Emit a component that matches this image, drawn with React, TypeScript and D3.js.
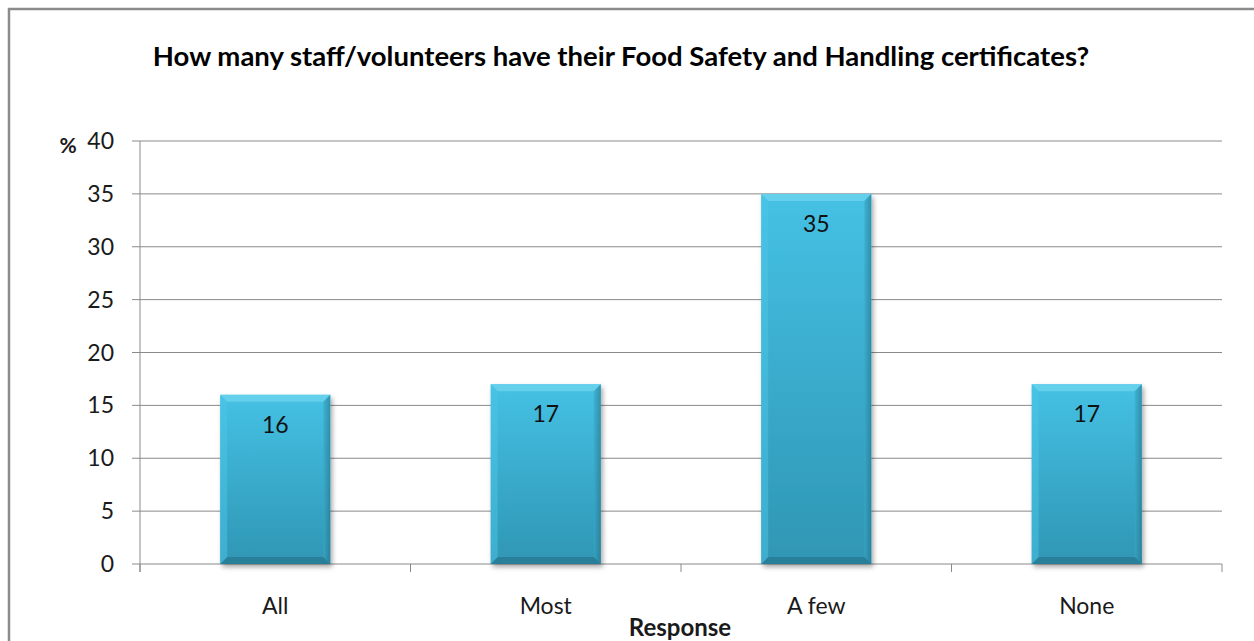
import React from "react";
import * as d3 from "d3";

const categories = ["All", "Most", "A few", "None"];
const values = [16, 17, 35, 17];
const yTicks = [0, 5, 10, 15, 20, 25, 30, 35, 40];
const title = "How many staff/volunteers have their Food Safety and Handling certificates?";
const xTitle = "Response";
const yUnit = "%";

const W = 1254, H = 641;
const plot = { left: 140, right: 1222, top: 141, bottom: 564 };
const FONT = "Lato, 'Open Sans', sans-serif";

export default function App() {
  const x = d3.scaleBand<string>().domain(categories).range([plot.left, plot.right]).paddingInner(0.593).paddingOuter(0.2965);
  const y = d3.scaleLinear().domain([0, 40]).range([plot.bottom, plot.top]);
  const bw = x.bandwidth();
  const bev = 7;
  const boundaries = d3.range(categories.length + 1).map(i => plot.left + i * (plot.right - plot.left) / categories.length);
  return (
    <svg width={W} height={H} style={{ position: "absolute", left: 0, top: 0 }}>
      <defs>
        <linearGradient id="barGrad" x1="0" y1="0" x2="0" y2="1">
          <stop offset="0" stopColor="#45C1E4" />
          <stop offset="1" stopColor="#2F96B4" />
        </linearGradient>
        <linearGradient id="sideGrad" x1="0" y1="0" x2="1" y2="0">
          <stop offset="0" stopColor="#3AA8C8" />
          <stop offset="1" stopColor="#23728A" />
        </linearGradient>
        <filter id="shadow" x="-20%" y="-20%" width="140%" height="140%">
          <feDropShadow dx="2" dy="3" stdDeviation="2.5" floodColor="#000" floodOpacity="0.35" />
        </filter>
      </defs>
      <rect x={0} y={0} width={W} height={H} fill="#fff" />
      <path d={`M9,${H} L9,9 L${W},9`} fill="none" stroke="#8c8c8c" strokeWidth={2.5} />
      <text x={621} y={66} textAnchor="middle" fontFamily={FONT} fontWeight="bold" fontSize={27.5} fill="#000">{title}</text>
      {yTicks.map(t => (
        <g key={t}>
          <line x1={plot.left - 8} x2={plot.right} y1={y(t)} y2={y(t)} stroke="#8a8a8a" strokeWidth={1} />
          <text x={114} y={y(t)} dy="0.35em" textAnchor="end" fontFamily={FONT} fontSize={23} fill="#1a1a1a">{t}</text>
        </g>
      ))}
      <text x={68} y={146} dy="0.35em" textAnchor="middle" fontFamily={FONT} fontWeight="bold" fontSize={21} fill="#1a1a1a">{yUnit}</text>
      <line x1={plot.left} x2={plot.left} y1={plot.top} y2={plot.bottom + 8} stroke="#8a8a8a" strokeWidth={1} />
      {boundaries.map((b, i) => (
        <line key={i} x1={b} x2={b} y1={plot.bottom} y2={plot.bottom + 8} stroke="#8a8a8a" strokeWidth={1} />
      ))}
      {categories.map((c, i) => {
        const x0 = x(c)!;
        const x1 = x0 + bw;
        const y0 = y(values[i]);
        const y1 = y(0);
        return (
          <g key={c}>
            <rect x={x0} y={y0} width={bw} height={y1 - y0} fill="url(#barGrad)" filter="url(#shadow)" />
            <polygon points={`${x0},${y0} ${x1},${y0} ${x1 - bev},${y0 + bev} ${x0 + bev},${y0 + bev}`} fill="#6BD3EE" opacity={0.8} />
            <polygon points={`${x1},${y0} ${x1},${y1} ${x1 - bev},${y1 - bev} ${x1 - bev},${y0 + bev}`} fill="url(#sideGrad)" opacity={0.6} />
            <polygon points={`${x0},${y1} ${x1},${y1} ${x1 - bev},${y1 - bev} ${x0 + bev},${y1 - bev}`} fill="#246F87" opacity={0.6} />
            <polygon points={`${x0},${y0} ${x0 + bev},${y0 + bev} ${x0 + bev},${y1 - bev} ${x0},${y1}`} fill="#4CC6E8" opacity={0.5} />
            <text x={x0 + bw / 2} y={y0 + 30} dy="0.35em" textAnchor="middle" fontFamily={FONT} fontSize={23} fill="#111">{values[i]}</text>
            <text x={x0 + bw / 2} y={606} dy="0.35em" textAnchor="middle" fontFamily={FONT} fontSize={23} fill="#1a1a1a">{c}</text>
          </g>
        );
      })}
      <text x={680} y={628} dy="0.35em" textAnchor="middle" fontFamily={FONT} fontWeight="bold" fontSize={24} fill="#1a1a1a">{xTitle}</text>
    </svg>
  );
}
